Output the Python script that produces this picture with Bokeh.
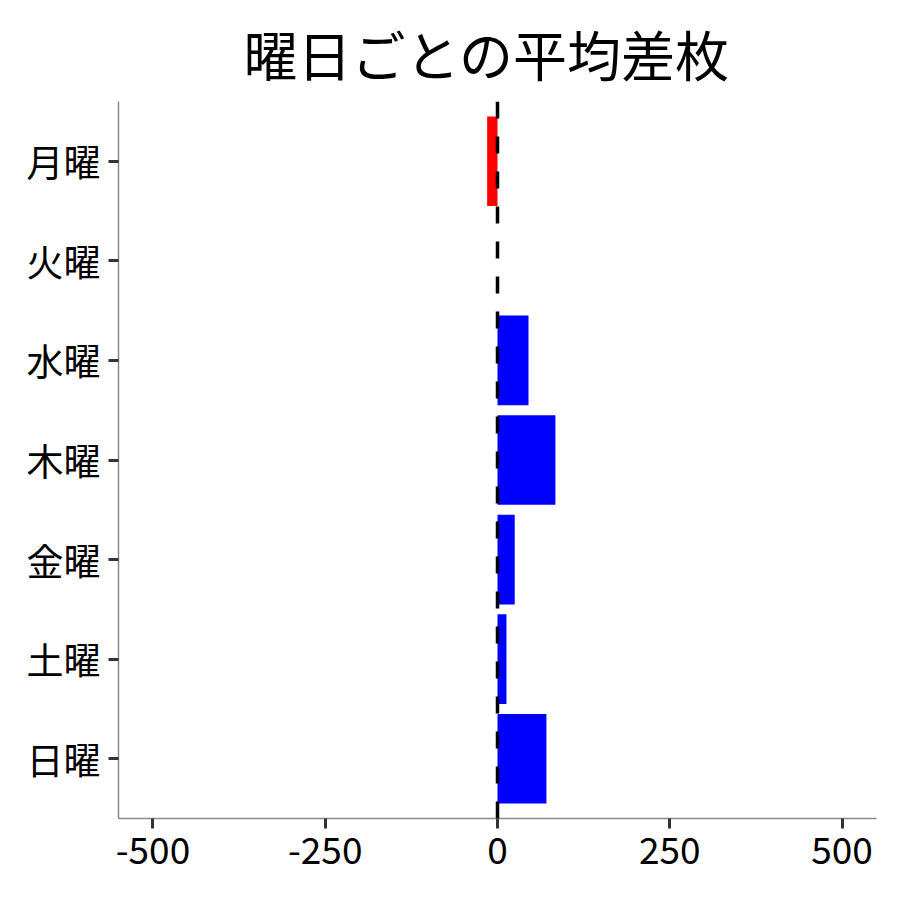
from bokeh.plotting import figure
from bokeh.models import ColumnDataSource, FactorRange, Span, FixedTicker, Range1d
from bokeh.embed import file_html
from bokeh.resources import INLINE

days = ["月曜", "火曜", "水曜", "木曜", "金曜", "土曜", "日曜"]
diffs = [-15, 0, 45, 84, 25, 13, 71]
x_ticks = [-500, -250, 0, 250, 500]
x_tick_labels = ["-500", "-250", "0", "250", "500"]
title_text = "曜日ごとの平均差枚"

colors = ["#FF0000" if v < 0 else "#0000FF" for v in diffs]
src = ColumnDataSource(dict(day=days, diff=diffs, color=colors))

FONT = "Noto Sans CJK JP"

p = figure(width=884, height=884, output_backend="svg", toolbar_location=None,
           y_range=FactorRange(factors=list(reversed(days)), range_padding=0.1,
                               range_padding_units="absolute"),
           x_range=Range1d(-550, 550),
           min_border_left=118, min_border_right=8, min_border_top=101, min_border_bottom=66)

p.hbar(y="day", right="diff", left=0, height=0.9, color="color", line_color=None, source=src)

p.add_layout(Span(location=0, dimension="height", line_color="black", line_width=3.5,
                  line_dash="17 18"))

p.title.text = title_text
p.title.align = "left"
p.title.offset = 125
p.title.text_font = FONT
p.title.text_font_size = "54px"
p.title.text_font_style = "normal"
p.title.text_color = "black"
p.title.vertical_align = "middle"
p.title.standoff = 15

p.xgrid.visible = False
p.ygrid.visible = False
p.outline_line_color = None
p.background_fill_color = "white"
p.border_fill_color = "white"

p.xaxis.ticker = FixedTicker(ticks=x_ticks)
p.xaxis.major_label_overrides = {t: l for t, l in zip(x_ticks, x_tick_labels)}

for ax in (p.xaxis[0], p.yaxis[0]):
    ax.axis_line_color = "#888888"
    ax.axis_line_width = 1.5
    ax.major_tick_line_color = "#333333"
    ax.major_tick_line_width = 3
    ax.major_tick_out = 10
    ax.major_tick_in = 0
    ax.minor_tick_line_color = None
    ax.major_label_text_font = FONT
    ax.major_label_text_font_size = "37px"
    ax.major_label_text_color = "black"
    ax.major_label_standoff = 8

open("out.html", "w").write(file_html(p, INLINE))
